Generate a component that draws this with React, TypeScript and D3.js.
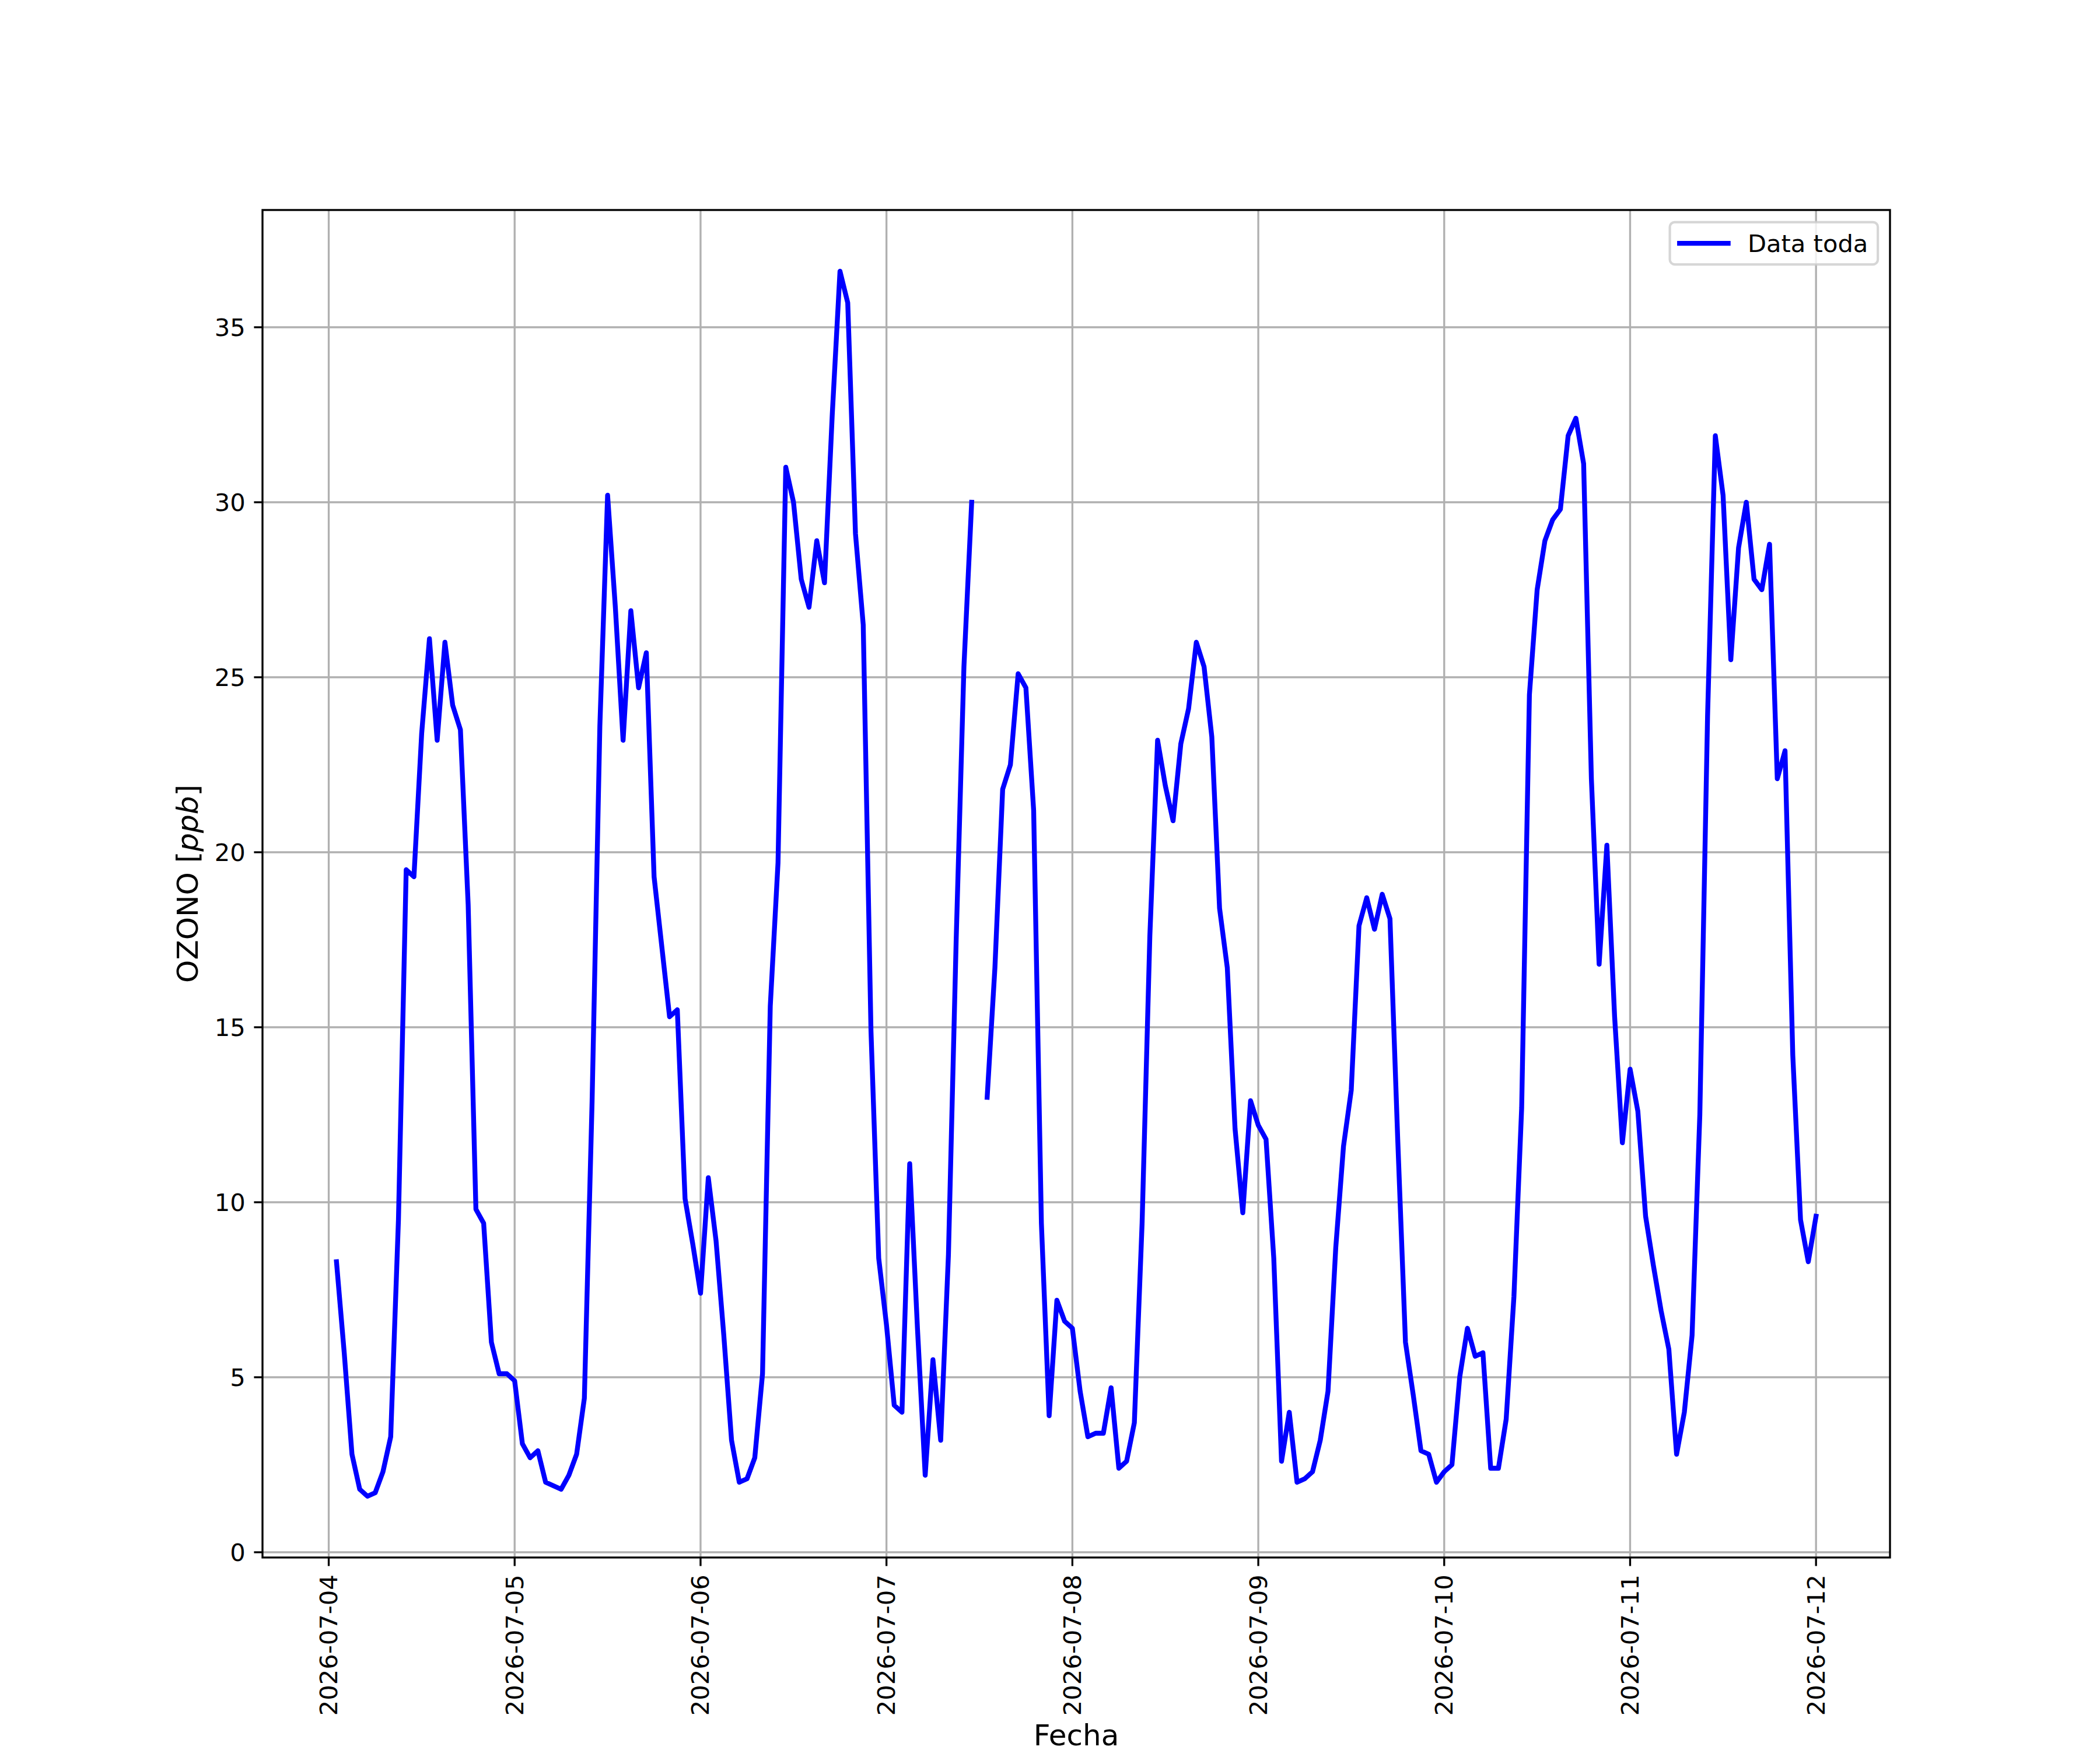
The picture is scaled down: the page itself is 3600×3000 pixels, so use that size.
import * as React from "react";
import * as d3 from "d3";

const { useRef, useEffect } = React;

// hourly ozone readings, first one at 2026-07-04 01:00, null = missing hour
const firstHour = "2026-07-04T01:00:00Z";
const ozone: (number | null)[] = [
  // 07-04
  8.3, 5.7, 2.8, 1.8, 1.6, 1.7, 2.3, 3.3, 9.5, 19.5, 19.3, 23.4,
  26.1, 23.2, 26.0, 24.2, 23.5, 18.5, 9.8, 9.4, 6.0, 5.1, 5.1, 4.9,
  // 07-05
  3.1, 2.7, 2.9, 2.0, 1.9, 1.8, 2.2, 2.8, 4.4, 12.9, 23.6, 30.2,
  27.0, 23.2, 26.9, 24.7, 25.7, 19.3, 17.3, 15.3, 15.5, 10.1, 8.8, 7.4,
  // 07-06
  10.7, 8.9, 6.2, 3.2, 2.0, 2.1, 2.7, 5.1, 15.6, 19.7, 31.0, 30.0,
  27.8, 27.0, 28.9, 27.7, 32.5, 36.6, 35.7, 29.1, 26.5, 14.9, 8.4, 6.5,
  // 07-07
  4.2, 4.0, 11.1, 6.4, 2.2, 5.5, 3.2, 8.5, 17.5, 25.3, 30.0, null,
  13.0, 16.7, 21.8, 22.5, 25.1, 24.7, 21.2, 9.4, 3.9, 7.2, 6.6, 6.4,
  // 07-08
  4.6, 3.3, 3.4, 3.4, 4.7, 2.4, 2.6, 3.7, 9.4, 17.6, 23.2, 21.9,
  20.9, 23.1, 24.1, 26.0, 25.3, 23.3, 18.4, 16.7, 12.1, 9.7, 12.9, 12.2,
  // 07-09
  11.8, 8.4, 2.6, 4.0, 2.0, 2.1, 2.3, 3.2, 4.6, 8.7, 11.6, 13.2,
  17.9, 18.7, 17.8, 18.8, 18.1, 11.8, 6.0, 4.5, 2.9, 2.8, 2.0, 2.3,
  // 07-10
  2.5, 5.0, 6.4, 5.6, 5.7, 2.4, 2.4, 3.8, 7.3, 12.7, 24.5, 27.5,
  28.9, 29.5, 29.8, 31.9, 32.4, 31.1, 22.1, 16.8, 20.2, 15.3, 11.7, 13.8,
  // 07-11
  12.6, 9.6, 8.2, 6.9, 5.8, 2.8, 4.0, 6.2, 12.5, 23.9, 31.9, 30.2,
  25.5, 28.7, 30.0, 27.8, 27.5, 28.8, 22.1, 22.9, 14.2, 9.5, 8.3, 9.6,
];
const yTicks = [0, 5, 10, 15, 20, 25, 30, 35];
const xTickDays = [
  "2026-07-04", "2026-07-05", "2026-07-06", "2026-07-07", "2026-07-08",
  "2026-07-09", "2026-07-10", "2026-07-11", "2026-07-12",
];
const seriesName = "Data toda";
const xLabel = "Fecha";
const yLabel = "OZONO";
const yUnit = "ppb";

const W = 3600, H = 3000;
const left = 450, right = 3240, top = 360, bottom = 2670;
const pt = 300 / 72;
const font = "DejaVu Sans";
const lineW = 2 * pt;

export default function App() {
  const svgRef = useRef(null);

  useEffect(() => {
    const svg = d3.select(svgRef.current);
    svg.selectAll("*").remove();

    const t0 = new Date(firstHour);
    const data = ozone.map((v, i) => ({ t: d3.utcHour.offset(t0, i), v }));

    // matplotlib style 5% margins
    const [tMin, tMax] = d3.extent(data, d => +d.t) as [number, number];
    const tPad = (tMax - tMin) * 0.05;
    const x = d3.scaleUtc().domain([tMin - tPad, tMax + tPad]).range([left, right]);

    const vals = ozone.filter(v => v != null) as number[];
    const [vMin, vMax] = d3.extent(vals) as [number, number];
    const vPad = (vMax - vMin) * 0.05;
    const y = d3.scaleLinear().domain([vMin - vPad, vMax + vPad]).range([bottom, top]);

    const xTicks = xTickDays.map(s => new Date(s + "T00:00:00Z"));
    const fmt = d3.utcFormat("%Y-%m-%d");

    const grid = svg.append("g").attr("stroke", "#b0b0b0").attr("stroke-width", 0.8 * pt);
    grid.selectAll("line.gy").data(yTicks).enter().append("line")
      .attr("x1", left).attr("x2", right)
      .attr("y1", d => y(d)).attr("y2", d => y(d));
    grid.selectAll("line.gx").data(xTicks).enter().append("line")
      .attr("y1", top).attr("y2", bottom)
      .attr("x1", d => x(d)).attr("x2", d => x(d));

    const line = d3.line<{ t: Date; v: number | null }>()
      .defined(d => d.v != null)
      .x(d => x(d.t))
      .y(d => y(d.v as number));

    svg.append("path")
      .datum(data)
      .attr("d", line)
      .attr("fill", "none")
      .attr("stroke", "#0000ff")
      .attr("stroke-width", lineW)
      .attr("stroke-linejoin", "round")
      .attr("stroke-linecap", "square");

    // spines
    svg.append("rect")
      .attr("x", left).attr("y", top)
      .attr("width", right - left).attr("height", bottom - top)
      .attr("fill", "none").attr("stroke", "#000").attr("stroke-width", 0.8 * pt);

    const tickLen = 3.5 * pt, pad = 3.5 * pt, tickFs = 10 * pt;

    const yAxis = svg.append("g").attr("font-family", font).attr("font-size", tickFs);
    yAxis.selectAll("line").data(yTicks).enter().append("line")
      .attr("x1", left - tickLen).attr("x2", left)
      .attr("y1", d => y(d)).attr("y2", d => y(d))
      .attr("stroke", "#000").attr("stroke-width", 0.8 * pt);
    yAxis.selectAll("text").data(yTicks).enter().append("text")
      .attr("x", left - tickLen - pad)
      .attr("y", d => y(d))
      .attr("text-anchor", "end")
      .attr("dominant-baseline", "central")
      .text(d => String(d));

    const xAxis = svg.append("g").attr("font-family", font).attr("font-size", tickFs);
    xAxis.selectAll("line").data(xTicks).enter().append("line")
      .attr("x1", d => x(d)).attr("x2", d => x(d))
      .attr("y1", bottom).attr("y2", bottom + tickLen)
      .attr("stroke", "#000").attr("stroke-width", 0.8 * pt);
    xAxis.selectAll("text").data(xTicks).enter().append("text")
      .attr("transform", d => `translate(${x(d)},${bottom + tickLen + pad}) rotate(-90)`)
      .attr("text-anchor", "end")
      .attr("dominant-baseline", "central")
      .text(d => fmt(d));

    svg.append("text")
      .attr("x", (left + right) / 2).attr("y", 2992)
      .attr("text-anchor", "middle")
      .attr("font-family", font).attr("font-size", 12 * pt)
      .text(xLabel);

    const yl = svg.append("text")
      .attr("transform", `translate(339,${(top + bottom) / 2}) rotate(-90)`)
      .attr("text-anchor", "middle")
      .attr("font-family", font).attr("font-size", 12 * pt);
    yl.append("tspan").text(yLabel + " [");
    yl.append("tspan").attr("font-style", "italic").text(yUnit);
    yl.append("tspan").text("]");

    // legend
    const fs = 10 * pt;
    const lg = svg.append("g").attr("font-family", font).attr("font-size", fs);
    const lw = 356.6, lh = 72.5;
    const lx = right - 0.5 * fs - lw, ly = top + 0.5 * fs;
    lg.append("rect")
      .attr("x", lx).attr("y", ly).attr("width", lw).attr("height", lh)
      .attr("rx", 0.2 * fs)
      .attr("fill", "#fff").attr("fill-opacity", 0.8)
      .attr("stroke", "#cccccc").attr("stroke-opacity", 0.8)
      .attr("stroke-width", 1 * pt);
    lg.append("line")
      .attr("x1", lx + 0.4 * fs).attr("x2", lx + 2.4 * fs)
      .attr("y1", ly + lh / 2).attr("y2", ly + lh / 2)
      .attr("stroke", "#0000ff").attr("stroke-width", lineW)
      .attr("stroke-linecap", "square");
    lg.append("text")
      .attr("x", lx + 3.2 * fs).attr("y", ly + lh / 2 + 15)
      .text(seriesName);
  }, []);

  return (
    <svg
      ref={svgRef}
      width={W}
      height={H}
      style={{ position: "absolute", left: 0, top: 0, background: "#fff" }}
    />
  );
}
